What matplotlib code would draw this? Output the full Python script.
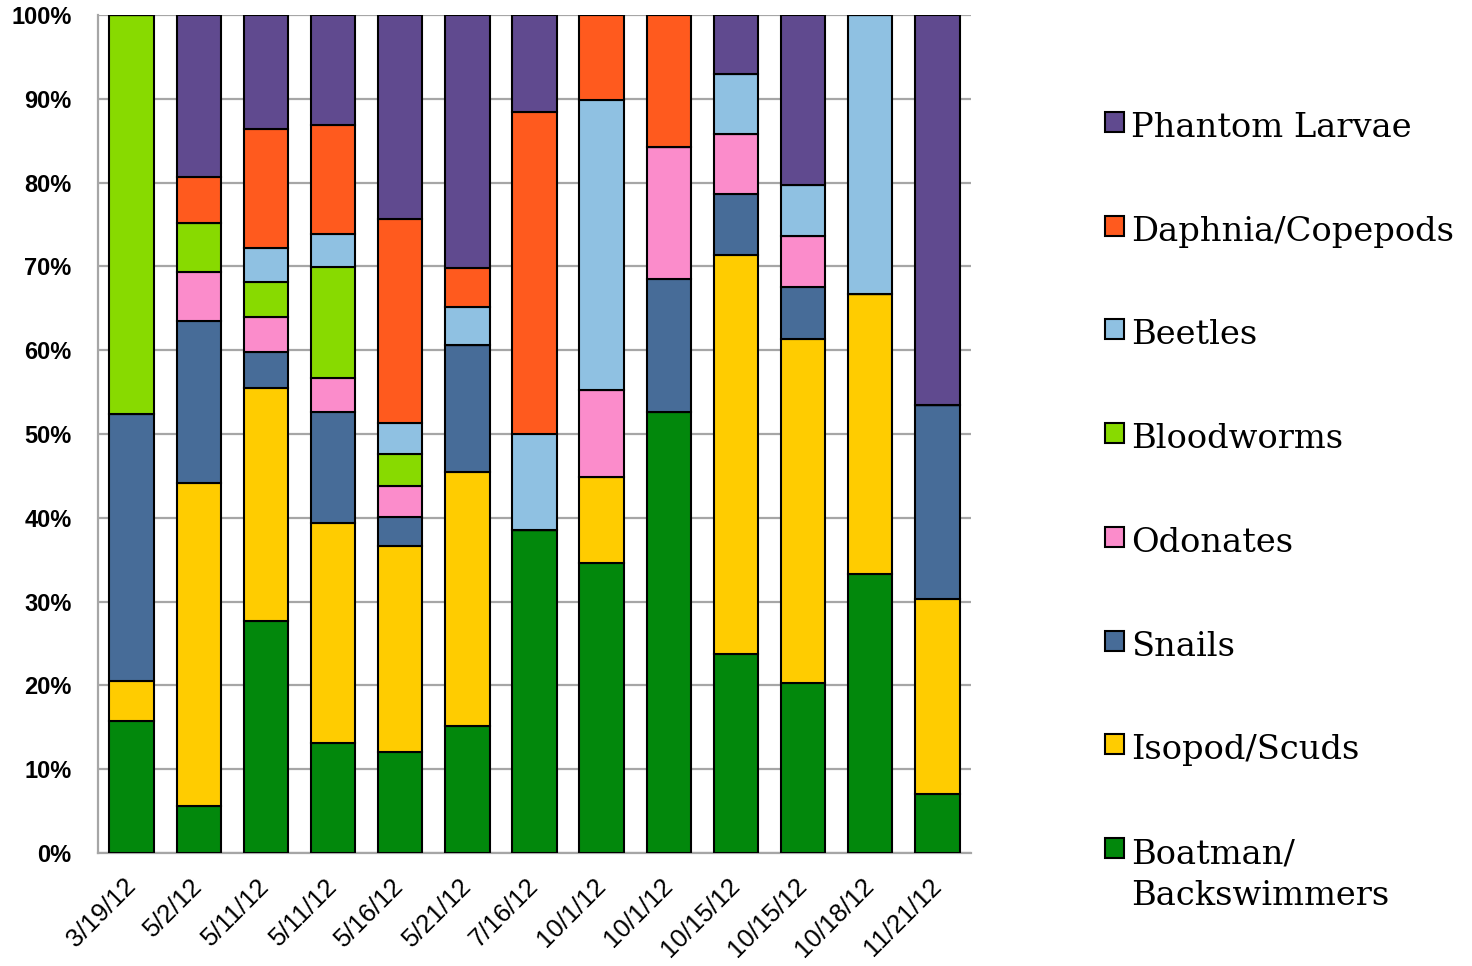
import matplotlib
matplotlib.use("Agg")
import matplotlib.pyplot as plt
from matplotlib.patches import Rectangle
import numpy as np

dates = ["3/19/12", "5/2/12", "5/11/12", "5/11/12", "5/16/12", "5/21/12", "7/16/12",
         "10/1/12", "10/1/12", "10/15/12", "10/15/12", "10/18/12", "11/21/12"]

# percentages, bottom to top
boatman    = [15.8,  5.6, 27.7, 13.1, 12.1, 15.2, 38.5, 34.6, 52.6, 23.7, 20.3, 33.3,  7.0]
isopod     = [ 4.7, 38.6, 27.8, 26.3, 24.5, 30.3,  0.0, 10.3,  0.0, 47.7, 41.0, 33.4, 23.3]
snails     = [31.9, 19.3,  4.3, 13.2,  3.5, 15.1,  0.0,  0.0, 15.9,  7.2,  6.2,  0.0, 23.2]
odonates   = [ 0.0,  5.8,  4.2,  4.1,  3.7,  0.0,  0.0, 10.4, 15.7,  7.2,  6.1,  0.0,  0.0]
bloodworms = [47.6,  5.9,  4.1, 13.2,  3.8,  0.0,  0.0,  0.0,  0.0,  0.0,  0.0,  0.0,  0.0]
beetles    = [ 0.0,  0.0,  4.1,  4.0,  3.7,  4.5, 11.5, 34.6,  0.0,  7.2,  6.1, 33.3,  0.0]
daphnia    = [ 0.0,  5.5, 14.2, 13.0, 24.4,  4.7, 38.4, 10.1, 15.8,  0.0,  0.0,  0.0,  0.0]
phantom    = [ 0.0, 19.3, 13.6, 13.1, 24.3, 30.2, 11.6,  0.0,  0.0,  7.0, 20.3,  0.0, 46.5]

series_names = ["Boatman/\nBackswimmers", "Isopod/Scuds", "Snails", "Odonates",
                "Bloodworms", "Beetles", "Daphnia/Copepods", "Phantom Larvae"]
series_values = [boatman, isopod, snails, odonates, bloodworms, beetles, daphnia, phantom]
series_colors = ["#02880C", "#FFCC00", "#476C98", "#FB8CCB",
                 "#88DA00", "#8FC1E2", "#FF5A1E", "#604A8F"]

fig = plt.figure(figsize=(14.72, 9.66), dpi=100)
ax = fig.add_axes([98 / 1472, 1 - 853 / 966, (971 - 98) / 1472, (853 - 15) / 966])

x = np.arange(len(dates))
bottom = np.zeros(len(dates))
for vals, col in zip(series_values, series_colors):
    v = np.array(vals, dtype=float)
    ax.bar(x, v, bottom=bottom, width=0.66, color=col, edgecolor="black",
           linewidth=1.5, zorder=3)
    bottom += v

ax.set_xlim(-0.5, len(dates) - 0.5)
ax.set_ylim(0, 100)
ax.set_yticks(np.arange(0, 101, 10))
ax.set_yticklabels([f"{v}%" for v in range(0, 101, 10)],
                   family=["Liberation Sans", "DejaVu Sans"], fontweight="bold", fontsize=17)
ax.tick_params(axis="y", length=0, pad=19)
ax.yaxis.grid(True, color="#A6A6A6", linewidth=1.6, zorder=0)
ax.set_axisbelow(True)

ax.set_xticks(x)
ax.set_xticklabels(dates, rotation=45, ha="right", va="center", rotation_mode="anchor",
                   family=["Liberation Sans", "DejaVu Sans"], fontsize=18.5)
ax.tick_params(axis="x", length=0, pad=21)

for s in ["top", "right"]:
    ax.spines[s].set_visible(False)
for s in ["left", "bottom"]:
    ax.spines[s].set_color("#A6A6A6")
    ax.spines[s].set_linewidth(1.6)

# legend (manual, top to bottom)
sq_centers = [122, 226, 329, 433, 537, 641, 744, 848]
line_gap = 42
for i, idx in enumerate(range(len(series_names) - 1, -1, -1)):
    cy = sq_centers[i]
    fig.add_artist(Rectangle((1105 / 1472, 1 - (cy + 10) / 966), 19 / 1472, 20 / 966,
                             transform=fig.transFigure, facecolor=series_colors[idx],
                             edgecolor="black", linewidth=1.5))
    for j, line in enumerate(series_names[idx].split("\n")):
        fig.text(1131 / 1472, 1 - (cy + 15 + j * line_gap) / 966, line,
                 family=["DejaVu Serif"], fontsize=24.3, va="baseline", ha="left")

fig.savefig("out.png", dpi=100)
